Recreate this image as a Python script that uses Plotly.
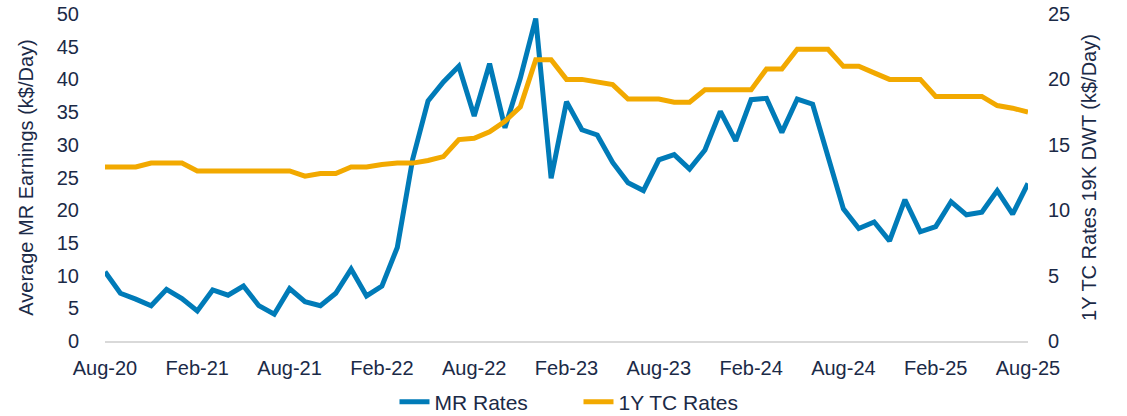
import pandas as pd
import plotly.graph_objects as go

months = [d.strftime("%b-%y") for d in pd.date_range("2020-08-01", "2025-08-01", freq="MS")]

mr_rates = [10.6, 7.3, 6.4, 5.4, 7.9, 6.5, 4.6, 7.8, 7.0, 8.4,
            5.4, 4.1, 8.0, 6.0, 5.4, 7.3, 11.0, 6.9, 8.4, 14.3,
            27.8, 36.7, 39.6, 42.0, 34.4, 42.4, 32.6, 40.2, 49.3, 24.9,
            36.6, 32.3, 31.5, 27.3, 24.2, 23.0, 27.7, 28.5, 26.3, 29.2,
            35.1, 30.6, 36.9, 37.1, 31.9, 37.0, 36.2, 28.2, 20.2, 17.2,
            18.2, 15.3, 21.6, 16.7, 17.5, 21.3, 19.3, 19.7, 23.0, 19.4,
            24.1]

tc_rates = [13.3, 13.3, 13.3, 13.6, 13.6, 13.6, 13.0, 13.0, 13.0, 13.0,
            13.0, 13.0, 13.0, 12.6, 12.8, 12.8, 13.3, 13.3, 13.5, 13.6,
            13.6, 13.8, 14.1, 15.4, 15.5, 16.0, 16.8, 17.9, 21.5, 21.5,
            20.0, 20.0, 19.8, 19.6, 18.5, 18.5, 18.5, 18.25, 18.25, 19.2,
            19.2, 19.2, 19.2, 20.8, 20.8, 22.3, 22.3, 22.3, 21.0, 21.0,
            20.5, 20.0, 20.0, 20.0, 18.7, 18.7, 18.7, 18.7, 18.0, 17.8,
            17.5]

tick_labels = months[::6]

FONT = "Liberation Sans, Arial, sans-serif"
TXT = "#1B2A47"
BLUE = "#007BB8"
ORANGE = "#F2A900"

fig = go.Figure()
fig.add_trace(go.Scatter(x=months, y=mr_rates, name="MR Rates", mode="lines",
                         line=dict(color=BLUE, width=5), yaxis="y"))
fig.add_trace(go.Scatter(x=months, y=tc_rates, name="1Y TC Rates", mode="lines",
                         line=dict(color=ORANGE, width=5), yaxis="y2"))

fig.update_layout(
    width=1127, height=416,
    margin=dict(l=105, r=99, t=14, b=75, autoexpand=False),
    paper_bgcolor="white", plot_bgcolor="white",
    font=dict(family=FONT, size=20, color=TXT),
    showlegend=True,
    legend=dict(orientation="h", x=0.513, xanchor="center", y=-0.187, yanchor="middle",
                font=dict(size=21, color=TXT), tracegroupgap=0,
                entrywidth=139, entrywidthmode="pixels"),
    xaxis=dict(type="category", categoryorder="array", categoryarray=months,
               range=[0, len(months) - 1], tickmode="array",
               tickvals=tick_labels, ticktext=tick_labels, automargin=False,
               showgrid=False, zeroline=False, showline=True,
               linecolor="#D9D9D9", linewidth=2, ticks="", tickfont=dict(size=20, color=TXT),
               ticklabelstandoff=8),
    yaxis=dict(range=[0, 50], dtick=5, showgrid=False, zeroline=False, showline=False,
               automargin=False,
               title=dict(text="Average MR Earnings (k$/Day)", font=dict(size=20, color=TXT), standoff=17),
               tickfont=dict(size=20, color=TXT), ticklabelstandoff=25),
    yaxis2=dict(range=[0, 25], dtick=5, overlaying="y", side="right", showgrid=False,
                zeroline=False, showline=False, automargin=False,
                title=dict(text="1Y TC Rates 19K DWT (k$/Day)", font=dict(size=20, color=TXT), standoff=12),
                tickfont=dict(size=20, color=TXT), ticklabelstandoff=19),
)

fig.write_html("out.html", config={"displayModeBar": False},
               post_script="document.body.style.margin='0';document.body.style.padding='0';")
